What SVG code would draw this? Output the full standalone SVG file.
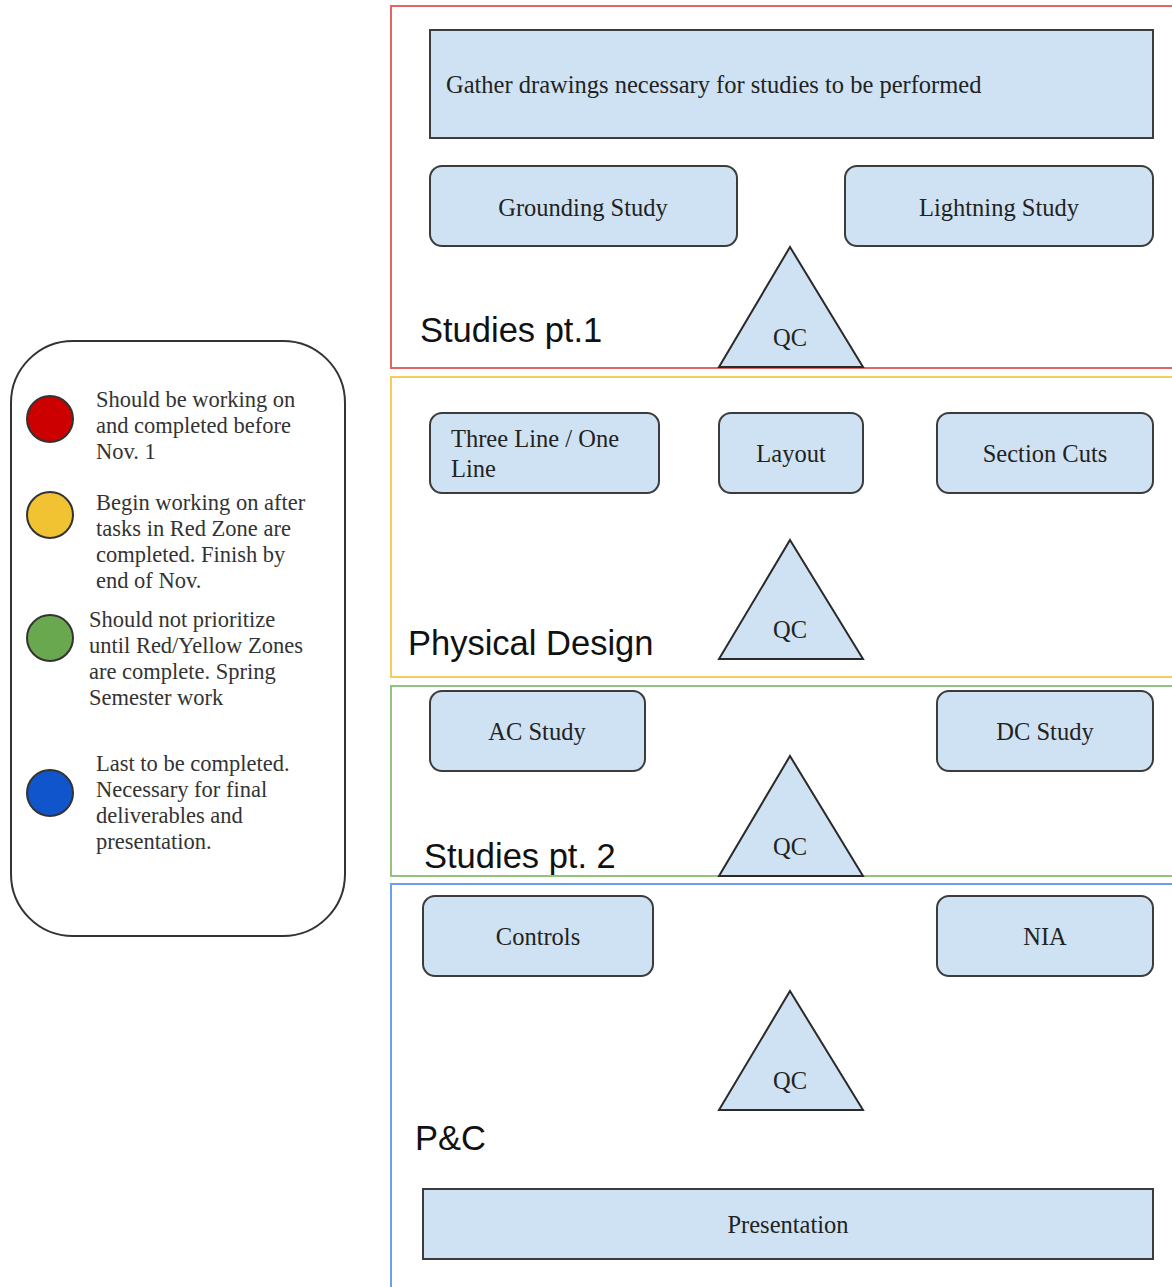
<svg xmlns="http://www.w3.org/2000/svg" width="1172" height="1287" viewBox="0 0 1172 1287">
<style>
.box{fill:#cfe2f3;stroke:#3c3c3c;stroke-width:2}
.tri{fill:#cfe2f3;stroke:#2a2a2a;stroke-width:2;stroke-linejoin:miter}
.t{font-family:"Liberation Serif",serif;font-size:24.5px;fill:#222}
.tc{font-family:"Liberation Serif",serif;font-size:24.5px;fill:#222;text-anchor:middle}
.lg{font-family:"Liberation Serif",serif;font-size:22.5px;fill:#333}
.h{font-family:"Liberation Sans",sans-serif;font-size:34.5px;fill:#111}
.zone{fill:none;stroke-width:2}
.dot{stroke:#333;stroke-width:2}
</style>
<rect width="1172" height="1287" fill="#fff"/>
<g id="zones">
<rect class="zone" x="391" y="6" width="800" height="362" stroke="#e06666"/>
<rect class="zone" x="391" y="377" width="800" height="300" stroke="#f6cc5a"/>
<rect class="zone" x="391" y="686" width="800" height="190" stroke="#93c47d"/>
<rect class="zone" x="391" y="884" width="800" height="420" stroke="#6d9eeb"/>
</g>
<g id="legend">
<rect x="11" y="341" width="334" height="595" rx="62" fill="#fff" stroke="#333" stroke-width="2"/>
<circle class="dot" cx="50" cy="419" r="23" fill="#cc0000"/>
<circle class="dot" cx="50" cy="515" r="23" fill="#f1c232"/>
<circle class="dot" cx="50" cy="638" r="23" fill="#6aa84f"/>
<circle class="dot" cx="50" cy="793" r="23" fill="#1155cc"/>
<text class="lg" x="96" y="407">Should be working on</text>
<text class="lg" x="96" y="433">and completed before</text>
<text class="lg" x="96" y="459">Nov. 1</text>
<text class="lg" x="96" y="510">Begin working on after</text>
<text class="lg" x="96" y="536">tasks in Red Zone are</text>
<text class="lg" x="96" y="562">completed. Finish by</text>
<text class="lg" x="96" y="588">end of Nov.</text>
<text class="lg" x="89" y="627">Should not prioritize</text>
<text class="lg" x="89" y="653">until Red/Yellow Zones</text>
<text class="lg" x="89" y="679">are complete. Spring</text>
<text class="lg" x="89" y="705">Semester work</text>
<text class="lg" x="96" y="771">Last to be completed.</text>
<text class="lg" x="96" y="797">Necessary for final</text>
<text class="lg" x="96" y="823">deliverables and</text>
<text class="lg" x="96" y="849">presentation.</text>
</g>
<g id="headings">
<text class="h" x="420" y="342">Studies pt.1</text>
<text class="h" x="408" y="655">Physical Design</text>
<text class="h" x="424" y="868">Studies pt. 2</text>
<text class="h" x="415" y="1150">P&amp;C</text>
</g>
<g id="gather"><rect class="box" x="430" y="30" width="723" height="108"/><text class="t" x="446" y="93">Gather drawings necessary for studies to be performed</text></g>
<g id="grounding"><rect class="box" x="430" y="166" width="307" height="80" rx="12"/><text class="tc" x="583" y="216">Grounding Study</text></g>
<g id="lightning"><rect class="box" x="845" y="166" width="308" height="80" rx="12"/><text class="tc" x="999" y="216">Lightning Study</text></g>
<g id="qc1"><polygon class="tri" points="790,247 863,367 719,367"/><text class="tc" x="790" y="346">QC</text></g>
<g id="threeline"><rect class="box" x="430" y="413" width="229" height="80" rx="12"/><text class="t" x="451" y="447">Three Line / One</text><text class="t" x="451" y="477">Line</text></g>
<g id="layout"><rect class="box" x="719" y="413" width="144" height="80" rx="12"/><text class="tc" x="791" y="462">Layout</text></g>
<g id="sectioncuts"><rect class="box" x="937" y="413" width="216" height="80" rx="12"/><text class="tc" x="1045" y="462">Section Cuts</text></g>
<g id="qc2"><polygon class="tri" points="790,540 863,659 719,659"/><text class="tc" x="790" y="638">QC</text></g>
<g id="ac"><rect class="box" x="430" y="691" width="215" height="80" rx="12"/><text class="tc" x="537" y="740">AC Study</text></g>
<g id="dc"><rect class="box" x="937" y="691" width="216" height="80" rx="12"/><text class="tc" x="1045" y="740">DC Study</text></g>
<g id="qc3"><polygon class="tri" points="790,756 863,876 719,876"/><text class="tc" x="790" y="855">QC</text></g>
<g id="controls"><rect class="box" x="423" y="896" width="230" height="80" rx="12"/><text class="tc" x="538" y="945">Controls</text></g>
<g id="nia"><rect class="box" x="937" y="896" width="216" height="80" rx="12"/><text class="tc" x="1045" y="945">NIA</text></g>
<g id="qc4"><polygon class="tri" points="790,991 863,1110 719,1110"/><text class="tc" x="790" y="1089">QC</text></g>
<g id="presentation"><rect class="box" x="423" y="1189" width="730" height="70"/><text class="tc" x="788" y="1233">Presentation</text></g>
<g id="connectors"></g>
</svg>
